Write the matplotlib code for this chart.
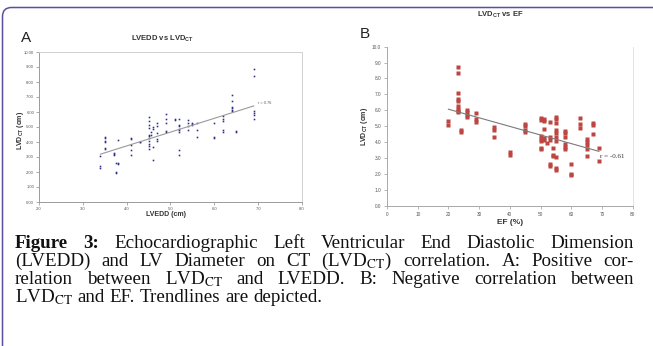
import matplotlib
matplotlib.use('Agg')
import matplotlib.pyplot as plt
import numpy as np
from matplotlib.patches import FancyBboxPatch
from matplotlib.transforms import IdentityTransform

# ---------------- data ----------------
lvedd_cm = [3.4, 3.4, 3.4,
            3.5, 3.5, 3.5, 3.5, 3.5, 3.5,
            3.7, 3.7, 3.7,
            3.75, 3.75, 3.75,
            3.8, 3.8, 3.8,
            4.1, 4.1, 4.1, 4.1, 4.1,
            4.3, 4.3,
            4.5, 4.5, 4.5, 4.5, 4.5, 4.5, 4.5, 4.5, 4.5, 4.5, 4.5,
            4.55, 4.55,
            4.6, 4.6, 4.6, 4.6,
            4.7, 4.7, 4.7, 4.7, 4.7,
            4.9, 4.9, 4.9, 4.9, 4.9,
            5.1, 5.1,
            5.2, 5.2, 5.2, 5.2, 5.2, 5.2, 5.2, 5.2,
            5.4, 5.4, 5.4, 5.4,
            5.5, 5.5, 5.5,
            5.6, 5.6, 5.6,
            6.0, 6.0, 6.0,
            6.2, 6.2, 6.2, 6.2, 6.2,
            6.4, 6.4, 6.4, 6.4, 6.4, 6.4,
            6.5, 6.5,
            6.9, 6.9, 6.9, 6.9, 6.9, 6.9]
lvdct_a = [3.05, 2.4, 2.25,
           4.35, 4.28, 4.1, 4.0, 3.6, 3.52,
           3.3, 3.2, 3.12,
           2.62, 2.02, 1.95,
           4.15, 2.6, 2.55,
           4.3, 4.18, 3.82, 3.5, 3.15,
           4.02, 3.97,
           5.65, 5.4, 5.15, 4.95, 4.5, 4.4, 4.25, 4.05, 3.9, 3.75, 3.55,
           4.7, 4.45,
           5.0, 4.85, 3.65, 2.82,
           5.25, 5.1, 4.6, 4.2, 4.05,
           5.85, 5.55, 5.3, 4.75, 4.65,
           5.55, 5.5,
           5.55, 5.15, 5.05, 4.9, 4.8, 4.7, 3.5, 3.15,
           5.45, 5.25, 5.1, 4.8,
           5.25, 5.2, 5.15,
           5.25, 4.8, 4.35,
           5.3, 4.35, 4.3,
           5.75, 5.55, 5.38, 4.78, 4.7,
           7.15, 6.75, 6.35, 6.25, 6.15, 6.05,
           4.75, 4.7,
           8.85, 8.4, 6.1, 5.95, 5.8, 5.55]

ef_pct = [20, 20,
          23, 23, 23, 23, 23, 23, 23, 23, 23,
          24, 24,
          26, 26, 26, 26,
          29, 29, 29,
          35, 35, 35,
          40, 40,
          45, 45, 45, 45,
          50, 50, 50, 50, 50, 50, 50,
          51, 51, 51, 51, 51,
          52,
          53, 53, 53, 53, 53,
          54, 54, 54,
          55, 55, 55, 55, 55, 55, 55, 55, 55, 55,
          58, 58, 58, 58, 58, 58,
          60, 60, 60,
          63, 63, 63,
          65, 65, 65, 65, 65,
          67, 67, 67,
          69, 69]
lvdct_b = [5.3, 5.1,
           8.75, 8.35, 7.1, 6.7, 6.6, 6.25, 6.1, 5.95, 5.9,
           4.75, 4.65,
           6.05, 5.9, 5.7, 5.55,
           5.85, 5.45, 5.25,
           4.95, 4.75, 4.35,
           3.35, 3.2,
           5.15, 5.0, 4.75, 4.65,
           5.5, 5.4, 4.4, 4.2, 4.05, 3.65, 3.55,
           5.45, 5.3, 4.85, 4.25, 4.15,
           3.95,
           5.25, 4.35, 4.15, 2.6, 2.5,
           3.6, 3.2, 3.1,
           5.6, 5.45, 5.2, 4.75, 4.55, 4.35, 4.1, 3.05, 2.4, 2.25,
           4.7, 4.55, 4.35, 3.9, 3.7, 3.55,
           2.6, 2.0, 1.9,
           5.5, 5.15, 4.9,
           4.2, 4.0, 3.8, 3.55, 3.15,
           5.2, 5.05, 4.5,
           3.65, 2.8]

xticks_a = [2.0, 3.0, 4.0, 5.0, 6.0, 7.0, 8.0]
yticks_a = [0, 1, 2, 3, 4, 5, 6, 7, 8, 9, 10]
xticks_b = [0, 10, 20, 30, 40, 50, 60, 70, 80]
yticks_b = [0, 1, 2, 3, 4, 5, 6, 7, 8, 9, 10]
r_a = "r = 0.76"
r_b = "r = -0.61"

# ---------------- figure ----------------
W, H = 653, 346
plt.rcParams['font.family'] = ['Liberation Sans', 'DejaVu Sans']
plt.rcParams['mathtext.fontset'] = 'custom'
plt.rcParams['mathtext.rm'] = 'Liberation Sans'
plt.rcParams['mathtext.bf'] = 'Liberation Sans:bold'
plt.rcParams['mathtext.it'] = 'Liberation Sans:italic'

fig = plt.figure(figsize=(W / 100, H / 100), dpi=100)
fig.patch.set_facecolor('white')


def fx(px):
    return px / W


def fy(py):
    return 1 - py / H


# border
border = FancyBboxPatch((2.5, -30), 720, (H - 7.5) + 30,
                        boxstyle="round,pad=0,rounding_size=9",
                        transform=IdentityTransform(), facecolor='none',
                        edgecolor='#5a519e', linewidth=1.1)
fig.add_artist(border)

# ---------------- panel A ----------------
axA = fig.add_axes([fx(39), fy(202), fx(302) - fx(39), fy(52) - fy(202)])
axA.plot(lvedd_cm, lvdct_a, linestyle='none', marker='s', ms=1.15,
         color='#2e2e86', mec='none')
xa = np.array(lvedd_cm)
ya = np.array(lvdct_a)
pa = np.polyfit(xa, ya, 1)
xl = np.array([xa.min(), xa.max()])
axA.plot(xl, np.polyval(pa, xl), color='#9a9a9a', lw=0.8)
axA.annotate(r_a, (xl[1], np.polyval(pa, xl[1])), xytext=(3, 2),
             textcoords='offset points', fontsize=2.8, color='#555555',
             va='center', ha='left')
axA.set_xlim(2, 8)
axA.set_ylim(0, 10)
axA.set_xticks(xticks_a)
axA.set_xticklabels([f"{v:.1f}" for v in xticks_a])
axA.set_yticks(yticks_a)
axA.set_yticklabels([f"{v:.2f}" for v in yticks_a])
axA.tick_params(labelsize=3, colors='#888888', labelcolor='#555555',
                length=2, width=0.5, pad=1.5)
for s in ['left', 'bottom']:
    axA.spines[s].set_color('#9a9a9a')
    axA.spines[s].set_linewidth(0.7)
for s in ['top', 'right']:
    axA.spines[s].set_color('#d0d0d0')
    axA.spines[s].set_linewidth(0.7)

fig.text(fx(162), fy(39), r'LVEDD vs LVD$_{\bf CT}$', fontsize=5.5,
         fontweight='bold', ha='center', va='center', color='#333333')
fig.text(fx(166), fy(214), 'LVEDD (cm)', fontsize=5, fontweight='bold',
         ha='center', va='center', color='#333333')
fig.text(fx(21), fy(130), r'LVD$_{\bf CT}$ (cm)', fontsize=5,
         fontweight='bold', ha='center', va='center', rotation=90,
         color='#333333')
fig.text(fx(26), fy(37.5), 'A', fontsize=11, ha='center', va='center',
         color='#222222')

# ---------------- panel B ----------------
axB = fig.add_axes([fx(387), fy(205.7), fx(632.7) - fx(387),
                    fy(46.7) - fy(205.7)])
axB.plot(ef_pct, lvdct_b, linestyle='none', marker='s', ms=3.1,
         color='#bd4643', mec='none')
xb = np.array(ef_pct, dtype=float)
yb = np.array(lvdct_b)
pb = np.polyfit(xb, yb, 1)
xl2 = np.array([xb.min(), xb.max()])
axB.plot(xl2, np.polyval(pb, xl2), color='#7a7a7a', lw=0.8)
axB.annotate(r_b, (xl2[1], np.polyval(pb, xl2[1])), xytext=(1, -4),
             textcoords='offset points', fontsize=5,
             family='Liberation Serif', color='#333333', va='center',
             ha='left')
axB.set_xlim(0, 80)
axB.set_ylim(0, 10)
axB.set_xticks(xticks_b)
axB.set_xticklabels([f"{v:d}" for v in xticks_b])
axB.set_yticks(yticks_b)
axB.set_yticklabels([f"{v:.1f}" for v in yticks_b])
axB.tick_params(labelsize=3.4, colors='#999999', labelcolor='#555555',
                length=2.2, width=0.5, pad=2)
for s in ['left', 'bottom']:
    axB.spines[s].set_color('#a8a8a8')
    axB.spines[s].set_linewidth(0.7)
axB.spines['top'].set_visible(False)
axB.spines['right'].set_color('#e2e2e2')
axB.spines['right'].set_linewidth(0.7)

fig.text(fx(500), fy(15), r'LVD$_{\bf CT}$ vs EF', fontsize=5.5,
         fontweight='bold', ha='center', va='center', color='#333333')
fig.text(fx(510), fy(222), 'EF (%)', fontsize=6, fontweight='bold',
         ha='center', va='center', color='#333333')
fig.text(fx(365), fy(126), r'LVD$_{\bf CT}$ (cm)', fontsize=5,
         fontweight='bold', ha='center', va='center', rotation=90,
         color='#333333')
fig.text(fx(365), fy(34), 'B', fontsize=11, ha='center', va='center',
         color='#222222')

# ---------------- caption (justified) ----------------
sub = r'LVD$_{\mathrm{CT}}$'
cap_lines = [
    [("Figure", True), ("3:", True), ("Echocardiographic", False),
     ("Left", False), ("Ventricular", False), ("End", False),
     ("Diastolic", False), ("Dimension", False)],
    [("(LVEDD)", False), ("and", False), ("LV", False), ("Diameter", False),
     ("on", False), ("CT", False), ("(" + sub + ")", False),
     ("correlation.", False), ("A:", False), ("Positive", False),
     ("cor-", False)],
    [("relation", False), ("between", False), (sub, False), ("and", False),
     ("LVEDD.", False), ("B:", False), ("Negative", False),
     ("correlation", False), ("between", False)],
    [(sub, False), ("and", False), ("EF.", False), ("Trendlines", False),
     ("are", False), ("depicted.", False)],
]
cap_fs = 13.7
x0, x1 = 15, 634
baselines = [247.5, 265.8, 284.1, 302.4]
renderer = fig.canvas.get_renderer()
for li, (toks, base) in enumerate(zip(cap_lines, baselines)):
    texts = []
    for word, bold in toks:
        t = fig.text(0, fy(base), word, fontsize=cap_fs,
                     family='Liberation Serif', math_fontfamily='stix',
                     fontweight='bold' if bold else 'normal',
                     ha='left', va='baseline', color='#111111')
        texts.append(t)
    widths = [t.get_window_extent(renderer).width for t in texts]
    if li < len(cap_lines) - 1:
        gap = (x1 - x0 - sum(widths)) / (len(texts) - 1)
    else:
        gap = cap_fs / 0.72 * 0.25
    x = x0
    for t, w in zip(texts, widths):
        t.set_x(fx(x))
        x += w + gap

fig.savefig('out.png', dpi=100)
